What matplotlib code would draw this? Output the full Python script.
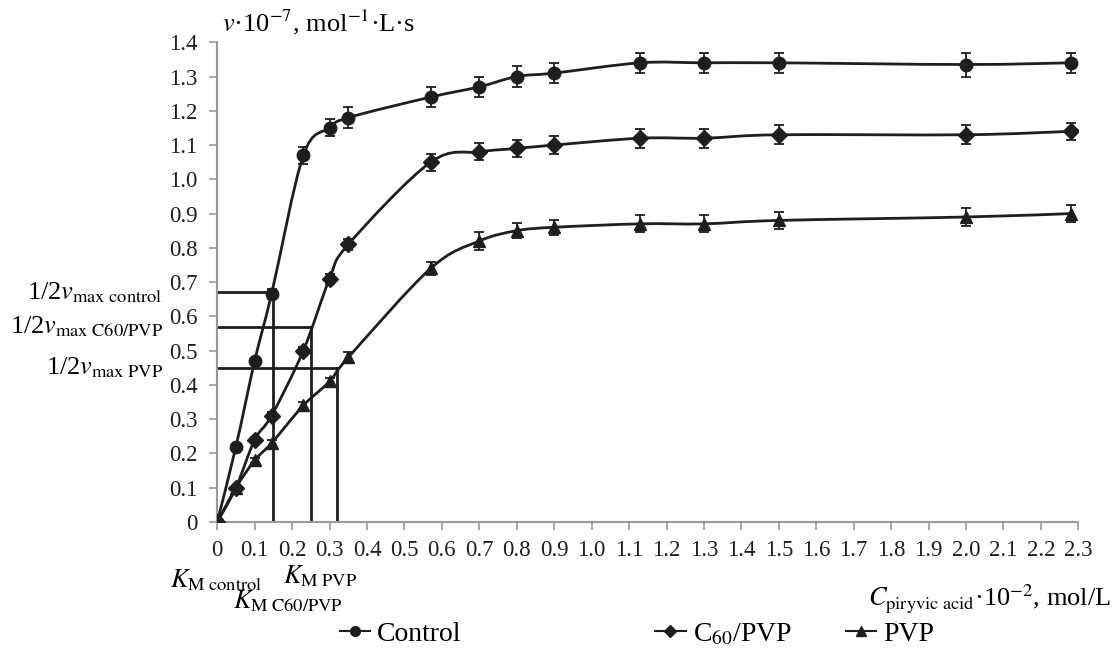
import matplotlib.pyplot as plt
import numpy as np
from matplotlib.path import Path
from matplotlib.patches import PathPatch
from matplotlib.lines import Line2D

plt.rcParams['font.family'] = ['Liberation Serif', 'DejaVu Serif']
plt.rcParams['mathtext.fontset'] = 'stix'

conc = [0, 0.05, 0.1, 0.145, 0.23, 0.3, 0.35, 0.57, 0.7, 0.8, 0.9, 1.13, 1.3, 1.5, 2.0, 2.28]
control = [0, 0.22, 0.47, 0.665, 1.07, 1.15, 1.18, 1.24, 1.27, 1.30, 1.31, 1.34, 1.34, 1.34, 1.335, 1.34]
c60pvp = [0, 0.10, 0.24, 0.31, 0.50, 0.71, 0.81, 1.05, 1.08, 1.09, 1.10, 1.12, 1.12, 1.13, 1.13, 1.14]
pvp = [0, 0.10, 0.18, 0.23, 0.34, 0.41, 0.48, 0.74, 0.82, 0.85, 0.86, 0.87, 0.87, 0.88, 0.89, 0.90]
control_err = [0, 0.005, 0.008, 0.015, 0.025, 0.025, 0.03, 0.03, 0.03, 0.03, 0.03, 0.03, 0.03, 0.03, 0.035, 0.03]
c60pvp_err = [0, 0.005, 0.008, 0.01, 0.01, 0.015, 0.015, 0.025, 0.025, 0.025, 0.025, 0.028, 0.028, 0.028, 0.028, 0.025]
pvp_err = [0, 0.005, 0.008, 0.01, 0.01, 0.01, 0.015, 0.02, 0.025, 0.022, 0.022, 0.025, 0.025, 0.025, 0.025, 0.025]

# half-Vmax levels and the matching K_M values
half_v = [0.67, 0.57, 0.45]
km = [0.15, 0.25, 0.32]
half_labels = [r"1/2$v_{\mathrm{max\ control}}$", r"1/2$v_{\mathrm{max\ C60/PVP}}$", r"1/2$v_{\mathrm{max\ PVP}}$"]

ink = "#1e1e1e"


def smooth_path(x, y):
    # Catmull-Rom spline drawn as cubic Bezier segments (Excel style smoothing)
    p = np.column_stack([x, y]).astype(float)
    pts = np.vstack([p[0], p, p[-1]])
    verts = [p[0]]
    codes = [Path.MOVETO]
    for i in range(1, len(pts) - 2):
        c1 = pts[i] + (pts[i + 1] - pts[i - 1]) / 6
        c2 = pts[i + 1] - (pts[i + 2] - pts[i]) / 6
        verts += [c1, c2, pts[i + 1]]
        codes += [Path.CURVE4] * 3
    return Path(verts, codes)


fig = plt.figure(figsize=(11.14, 6.5), dpi=100)
ax = fig.add_axes([0.195, 0.197, 0.773, 0.738])

series = [(control, control_err, "o", 9), (c60pvp, c60pvp_err, "D", 8), (pvp, pvp_err, "^", 9)]
for vals, err, mk, ms in series:
    ax.add_patch(PathPatch(smooth_path(conc, vals), fill=False, edgecolor=ink, lw=2, zorder=3))
    ax.errorbar(conc, vals, yerr=err, fmt=mk, ms=ms, color=ink, ecolor=ink,
                elinewidth=1.3, capsize=3.5, capthick=1.3, zorder=4)

for hv, k in zip(half_v, km):
    ax.plot([0, k], [hv, hv], color=ink, lw=2, zorder=2)
    ax.plot([k, k], [0, hv], color=ink, lw=2, zorder=2)

for hv, lab in zip(half_v, half_labels):
    ax.text(-0.145, hv, lab, ha="right", va="center", fontsize=19)

ax.set_xlim(0, 2.3)
ax.set_ylim(0, 1.4)
ax.set_xticks(np.round(np.arange(0, 2.31, 0.1), 1))
ax.set_xticklabels(["0"] + [f"{v:.1f}" for v in np.arange(0.1, 2.31, 0.1)])
ax.set_yticks(np.round(np.arange(0, 1.41, 0.1), 1))
ax.set_yticklabels(["0"] + [f"{v:.1f}" for v in np.arange(0.1, 1.41, 0.1)])
ax.tick_params(labelsize=16.5, colors="#999999", labelcolor=ink, length=6, width=1.2)
ax.tick_params(axis="x", pad=7)
ax.tick_params(axis="y", pad=8)
for s in ["top", "right"]:
    ax.spines[s].set_visible(False)
for s in ["left", "bottom"]:
    ax.spines[s].set_color("#999999")
    ax.spines[s].set_linewidth(1.5)

fig.text(0.199, 0.951, r"$v$·10$^{-7}$, mol$^{-1}$·L·s", fontsize=19, ha="left", va="baseline")
fig.text(0.997, 0.068, r"$C_{\mathrm{piryvic\ acid}}$·10$^{-2}$, mol/L", fontsize=19, ha="right", va="baseline")
fig.text(0.153, 0.097, r"$K_{\mathrm{M\ control}}$", fontsize=19, ha="left", va="baseline")
fig.text(0.254, 0.102, r"$K_{\mathrm{M\ PVP}}$", fontsize=19, ha="left", va="baseline")
fig.text(0.209, 0.064, r"$K_{\mathrm{M\ C60/PVP}}$", fontsize=19, ha="left", va="baseline")

handles = [Line2D([], [], color=ink, marker="o", ms=7, lw=1.5),
           Line2D([], [], color=ink, marker="D", ms=6, lw=1.5),
           Line2D([], [], color=ink, marker="^", ms=7, lw=1.5)]
names = ["Control", r"C$_{60}$/PVP", "PVP"]
legend_x = [0.305, 0.588, 0.759]
for h, n, lx in zip(handles, names, legend_x):
    fig.legend([h], [n], loc="center left", bbox_to_anchor=(lx, 0.024), frameon=False, fontsize=20,
               handlelength=1.1, handletextpad=0.25, borderpad=0, borderaxespad=0)

fig.savefig("out.png", dpi=100)
